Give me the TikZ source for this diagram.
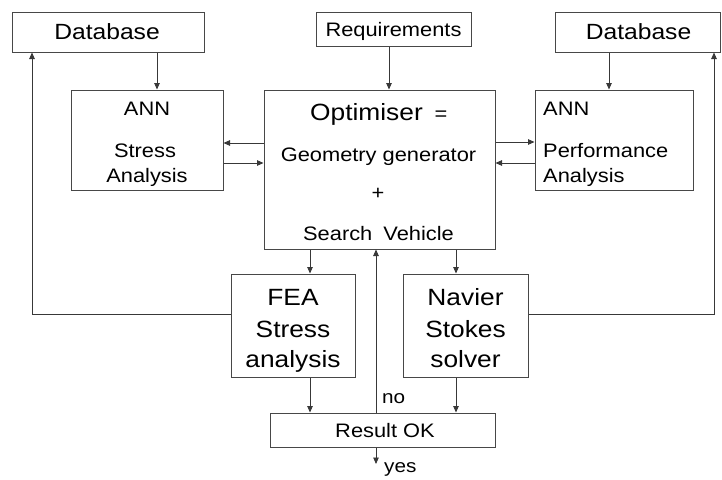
\documentclass[tikz,border=0pt]{standalone}
\usepackage{fontspec}
\setmainfont[FakeStretch=1.12]{Liberation Sans}
\usetikzlibrary{arrows.meta}
\begin{document}
\begin{tikzpicture}[x=1pt,y=-1pt,
  box/.style={draw=black!72, line width=1pt, rectangle, inner sep=0pt},
  arr/.style={draw=black!78, line width=0.9pt, -{Triangle[width=5.5pt,length=6.5pt]}},
  ln/.style={draw=black!78, line width=0.9pt},
  txt/.style={anchor=base, inner sep=0pt, text=black},
  txtw/.style={anchor=base west, inner sep=0pt, text=black},
  fs/.style={font=\fontsize{19.5}{23}\selectfont},
  fm/.style={font=\fontsize{22}{26}\selectfont},
  fl/.style={font=\fontsize{23.5}{28}\selectfont},
  fo/.style={font=\fontsize{23.5}{28}\selectfont},
  fy/.style={font=\fontsize{18.5}{22}\selectfont}]
\useasboundingbox (0,0) rectangle (722,479);
\fill[white] (0,0) rectangle (722,479);

% boxes
\node[box, minimum width=192pt, minimum height=40pt] (db1) at (108,32) {};
\node[box, minimum width=155pt, minimum height=34pt] (req) at (393.5,29) {};
\node[box, minimum width=165pt, minimum height=40pt] (db2) at (637.5,32) {};
\node[box, minimum width=152pt, minimum height=100pt] (ann1) at (147,140) {};
\node[box, minimum width=231pt, minimum height=159pt] (opt) at (379.5,169.5) {};
\node[box, minimum width=158pt, minimum height=100pt] (ann2) at (614,140) {};
\node[box, minimum width=124pt, minimum height=103pt] (fea) at (293,325.5) {};
\node[box, minimum width=125pt, minimum height=103pt] (nav) at (465.5,325.5) {};
\node[box, minimum width=225pt, minimum height=34pt] (res) at (382.5,430) {};

% texts
\node[txt, fm] (t1) at (107,39) {Database};
\node[txt, fs] (t2) at (393.5,36) {Requirements};
\node[txt, fm] (t3) at (638.5,39) {Database};
\node[txt, fs] (t4) at (147,115) {ANN};
\node[txt, fs] (t5) at (145,157) {Stress};
\node[txt, fs] (t6) at (147,182) {Analysis};
\node[txt, fo] (t7) at (366.5,120) {Optimiser};
\node[txt, fs] (t8) at (441,120) {=};
\node[txt, fs] (t9) at (378.5,161) {Geometry generator};
\node[txt, fs] (t10) at (378,199) {+};
\node[txt, fs] (t11) at (378.5,240) {Search\hspace{5pt} Vehicle};
\node[txtw, fs] (t12) at (543,115) {ANN};
\node[txtw, fs] (t13) at (543,157) {Performance};
\node[txtw, fs] (t14) at (543,182) {Analysis};
\node[txt, fl] (t15) at (293,305) {FEA};
\node[txt, fl] (t16) at (293,337) {Stress};
\node[txt, fl] (t17) at (293,367) {analysis};
\node[txt, fl] (t18) at (465.5,305) {Navier};
\node[txt, fl] (t19) at (465.5,337) {Stokes};
\node[txt, fl] (t20) at (465.5,367) {solver};
\node[txt, fs] (t21) at (385,437) {Result OK};
\node[txtw, fy] (t22) at (382,403) {no};
\node[txtw, fy] (t23) at (384,472) {yes};

% x / y helper coordinates
\coordinate (xa) at (157,0);
\coordinate (xr) at (389,0);
\coordinate (xb) at (609,0);
\coordinate (xl) at (32,0);
\coordinate (xR) at (714,0);
\coordinate (xf) at (310,0);
\coordinate (xn) at (456,0);
\coordinate (xno) at (376,0);
\coordinate (y1) at (0,143);
\coordinate (y2) at (0,163);
\coordinate (y3) at (0,142);
\coordinate (y4) at (0,163);
\coordinate (yfb) at (0,314);
\coordinate (yend) at (376,464);

% connectors
\draw[arr] (xa |- db1.south) -- (xa |- ann1.north);
\draw[arr] (xr |- req.south) -- (xr |- opt.north);
\draw[arr] (xb |- db2.south) -- (xb |- ann2.north);
\draw[arr] (opt.west |- y1) -- (ann1.east |- y1);
\draw[arr] (ann1.east |- y2) -- (opt.west |- y2);
\draw[arr] (opt.east |- y3) -- (ann2.west |- y3);
\draw[arr] (ann2.west |- y4) -- (opt.east |- y4);
\draw[arr] (xf |- opt.south) -- (xf |- fea.north);
\draw[arr] (xn |- opt.south) -- (xn |- nav.north);
\draw[arr] (xf |- fea.south) -- (xf |- res.north);
\draw[arr] (xn |- nav.south) -- (xn |- res.north);
\draw[arr] (xno |- res.north) -- (xno |- opt.south);
\draw[arr] (xno |- res.south) -- (yend);
\draw[arr] (fea.west |- yfb) -- (xl |- yfb) -- (xl |- db1.south);
\draw[arr] (nav.east |- yfb) -- (xR |- yfb) -- (xR |- db2.south);
\end{tikzpicture}
\end{document}
